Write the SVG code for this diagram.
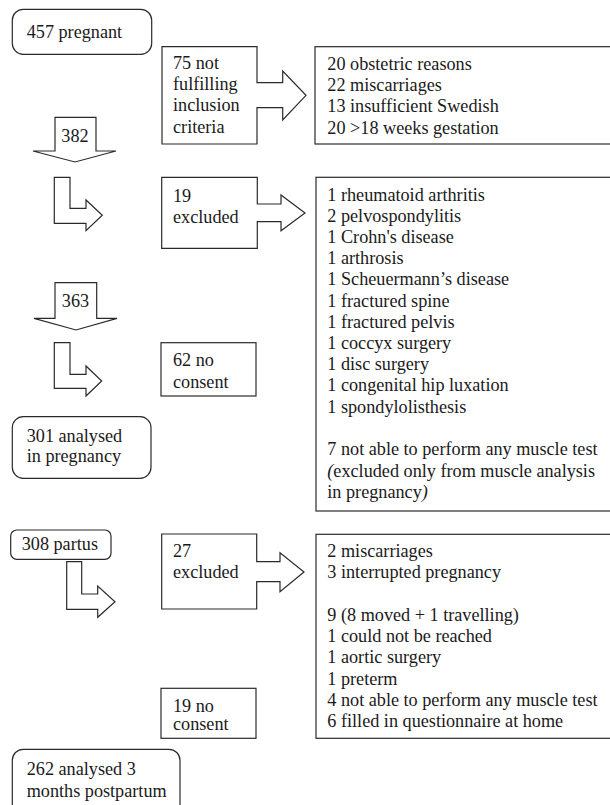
<svg xmlns="http://www.w3.org/2000/svg" width="610" height="805" viewBox="0 0 610 805">
<style>
  .s { fill: #ffffff; stroke: #2a2a2a; stroke-width: 1.2; stroke-linejoin: miter; }
  text { font-family: 'Liberation Serif', 'DejaVu Serif', 'Noto Serif', Tinos, serif; font-size: 18.2px; fill: #1a1a1a; }
  .c { text-anchor: middle; }
  .i { font-style: italic; }
</style>
<rect width="610" height="805" fill="#ffffff"/>

<g id="connectors">
  <polygon class="s" points="55,117.3 96,117.3 96,151 116,151 75,162 33,151 55,151"/>
  <text class="c" x="75" y="141.7" font-family="Liberation Serif, serif">382</text>
  <polygon class="s" points="54.3,177.3 70,177.3 70,208.3 86,208.3 86,200 102.3,215.3 86,230.7 86,223.3 54.3,223.3"/>
  <polygon class="s" points="55,282.7 96.7,282.7 96.7,318.3 117,318.3 76,330 34,318.3 55,318.3"/>
  <text class="c" x="75.5" y="306.7">363</text>
  <polygon class="s" points="54.3,342.7 70,342.7 70,374.3 86,374.3 86,366 101.7,381 86,396 86,388.3 54.3,388.3"/>
  <polygon class="s" points="66.7,561.7 81.7,561.7 81.7,594 97.7,594 97.7,586 115,601.7 97.7,617.3 97.7,609.3 66.7,609.3"/>
</g>

<g id="n457">
  <rect class="s" x="12.3" y="9.3" width="139.4" height="45" rx="11"/>
  <text x="26.7" y="38.3">457 pregnant</text>
</g>

<g id="n75">
  <polygon class="s" points="162,46.7 257,46.7 257,82.7 282.7,82.7 282.7,71 306,95.3 282.7,120 282.7,107.7 257,107.7 257,144 162,144"/>
  <text x="173" y="69">75 not</text>
  <text x="173" y="90">fulfilling</text>
  <text x="173" y="111">inclusion</text>
  <text x="173" y="132.5">criteria</text>
</g>

<g id="list1">
  <rect class="s" x="315" y="46.7" width="300" height="97.3"/>
  <text x="327.3" y="70">20 obstetric reasons</text>
  <text x="327.3" y="91.2">22 miscarriages</text>
  <text x="327.3" y="112.4">13 insufficient Swedish</text>
  <text x="327.3" y="133.6">20 &gt;18 weeks gestation</text>
</g>

<g id="n19">
  <polygon class="s" points="161.7,177.3 257.3,177.3 257.3,204 281,204 281,195 305,212.9 281,230.7 281,221.7 257.3,221.7 257.3,248.3 161.7,248.3"/>
  <text x="173" y="201.7">19</text>
  <text x="173" y="222.7">excluded</text>
</g>

<g id="list2">
  <rect class="s" x="316" y="177.3" width="300" height="333.7"/>
  <text x="327.3" y="200.5">1 rheumatoid arthritis</text>
  <text x="327.3" y="221.7">2 pelvospondylitis</text>
  <text x="327.3" y="242.9">1 Crohn's disease</text>
  <text x="327.3" y="264.1">1 arthrosis</text>
  <text x="327.3" y="285.3">1 Scheuermann’s disease</text>
  <text x="327.3" y="306.5">1 fractured spine</text>
  <text x="327.3" y="327.7">1 fractured pelvis</text>
  <text x="327.3" y="348.9">1 coccyx surgery</text>
  <text x="327.3" y="370.1">1 disc surgery</text>
  <text x="327.3" y="391.3">1 congenital hip luxation</text>
  <text x="327.3" y="412.5">1 spondylolisthesis</text>
  <text x="327.3" y="455">7 not able to perform any muscle test</text>
  <text x="327.3" y="476.5"><tspan class="i">(</tspan>excluded only from muscle analysis</text>
  <text x="327.3" y="498">in pregnancy<tspan class="i">)</tspan></text>
</g>

<g id="n62">
  <rect class="s" x="161" y="342.7" width="95" height="53.3"/>
  <text x="173" y="366">62 no</text>
  <text x="173" y="387.7">consent</text>
</g>

<g id="n301">
  <rect class="s" x="12.3" y="416.7" width="138.7" height="61.6" rx="11"/>
  <text x="26.7" y="441.7">301 analysed</text>
  <text x="26.7" y="462">in pregnancy</text>
</g>

<g id="n308">
  <rect class="s" x="10.7" y="530" width="100.3" height="29.3" rx="6"/>
  <text x="21.7" y="550">308 partus</text>
</g>

<g id="n27">
  <polygon class="s" points="161.7,534 256.7,534 256.7,561.7 280,561.7 280,552.7 304,572 280,591.7 280,581.7 256.7,581.7 256.7,609 161.7,609"/>
  <text x="173" y="556.7">27</text>
  <text x="173" y="578.3">excluded</text>
</g>

<g id="list3">
  <rect class="s" x="316" y="534.3" width="300" height="204"/>
  <text x="327.3" y="557">2 miscarriages</text>
  <text x="327.3" y="578.3">3 interrupted pregnancy</text>
  <text x="327.3" y="620.8">9 (8 moved + 1 travelling)</text>
  <text x="327.3" y="642">1 could not be reached</text>
  <text x="327.3" y="663.3">1 aortic surgery</text>
  <text x="327.3" y="684.5">1 preterm</text>
  <text x="327.3" y="705.8">4 not able to perform any muscle test</text>
  <text x="327.3" y="727">6 filled in questionnaire at home</text>
</g>

<g id="n19nc">
  <rect class="s" x="161" y="688.3" width="95" height="50"/>
  <text x="173" y="711.7">19 no</text>
  <text x="173" y="730">consent</text>
</g>

<g id="n262">
  <rect class="s" x="12.3" y="749.3" width="167.7" height="70" rx="11"/>
  <text x="26.7" y="775">262 analysed 3</text>
  <text x="26.7" y="796.7">months postpartum</text>
</g>
</svg>
